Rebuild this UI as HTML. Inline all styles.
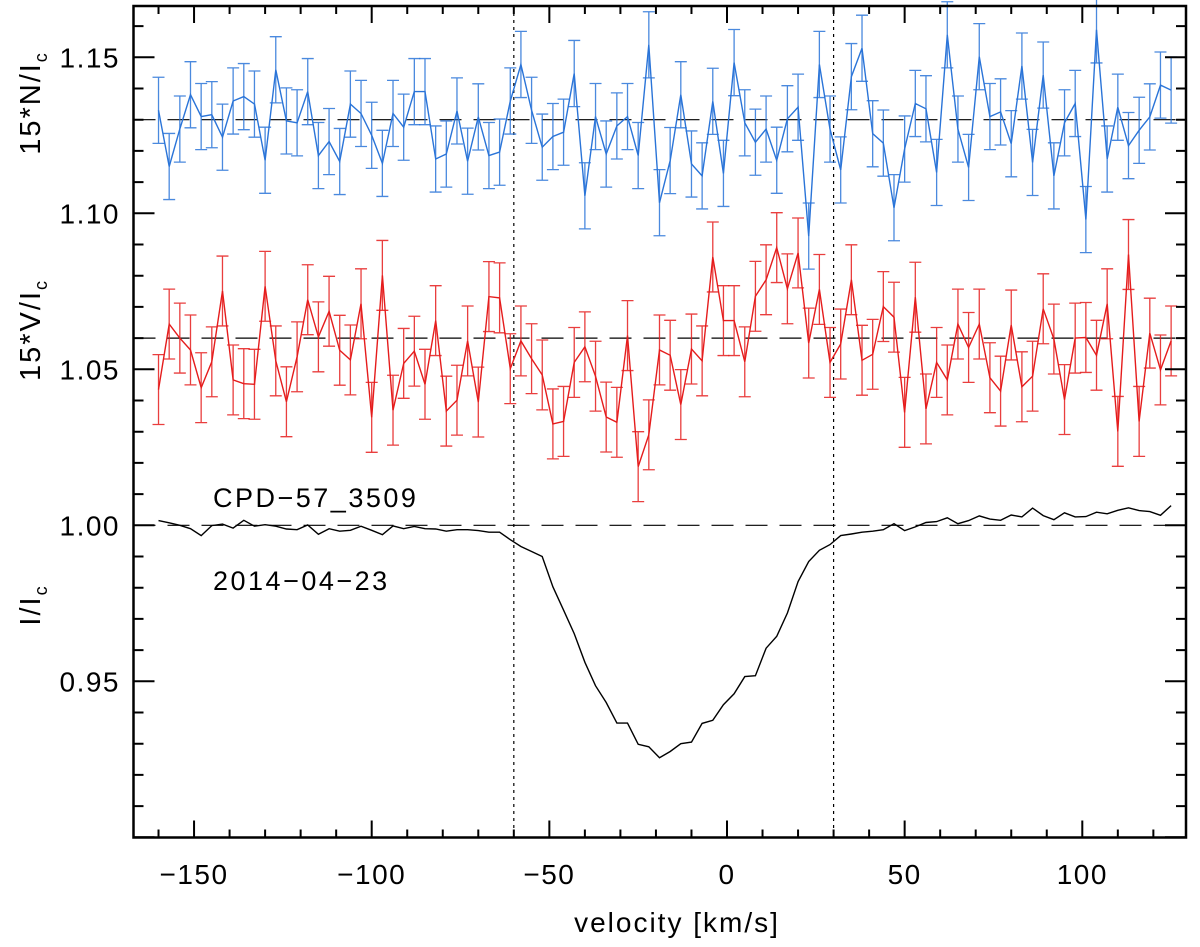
<!DOCTYPE html>
<html><head><meta charset="utf-8"><style>
html,body{margin:0;padding:0;background:#fff;}
svg{display:block;font-family:"Liberation Sans",sans-serif;}
</style></head><body>
<svg id="chart" width="1200" height="947" viewBox="0 0 1200 947" xmlns="http://www.w3.org/2000/svg">
<g id="marks"></g>
<rect x="133.5" y="6" width="1052.5" height="831.5" fill="none" stroke="#000" stroke-width="2.5"/>
<g id="axes"></g>
<text x="677" y="932" font-size="28" letter-spacing="2" text-anchor="middle" fill="#000">velocity [km/s]</text>
<text transform="translate(40,103) rotate(-90)" font-size="29" letter-spacing="2" text-anchor="middle" fill="#000">15*N/I<tspan font-size="18" dy="7">c</tspan></text>
<text transform="translate(40,330) rotate(-90)" font-size="29" letter-spacing="2" text-anchor="middle" fill="#000">15*V/I<tspan font-size="18" dy="7">c</tspan></text>
<text transform="translate(40,605) rotate(-90)" font-size="29" letter-spacing="2" text-anchor="middle" fill="#000">I/I<tspan font-size="18" dy="7">c</tspan></text>
<text x="213" y="507" font-size="27" letter-spacing="2.5" fill="#000">CPD−57_3509</text>
<text x="213" y="590" font-size="27" letter-spacing="2.5" fill="#000">2014−04−23</text>
</svg>
<script>
const vStart = -160, vStep = 3;
const nullN = [1.133,1.115,1.127,1.138,1.131,1.1316,1.1244,1.136,1.1374,1.135,1.117,1.146,1.1296,1.129,1.139,1.1185,1.123,1.1166,1.135,1.132,1.125,1.116,1.132,1.1276,1.139,1.139,1.1174,1.119,1.1328,1.1167,1.1309,1.1185,1.1196,1.136,1.1477,1.133,1.1212,1.1246,1.126,1.1448,1.1056,1.131,1.119,1.128,1.131,1.1185,1.154,1.1034,
1.1169,1.138,1.1158,1.112,1.1359,1.1128,1.1483,1.129,1.1228,1.127,1.117,1.1303,1.134,1.0927,1.1477,1.127,1.1139,1.1438,1.1529,1.1255,1.1225,1.1018,1.1206,1.1352,1.1335,1.1131,1.1572,1.127,1.1147,1.1502,1.131,1.1325,1.1223,1.1472,1.1163,1.1443,1.112,1.129,1.1352,1.098,1.1588,1.1174,1.134,1.1217,1.1266,1.1309,1.1411,1.1395];
const stokesV = [1.0435,1.0645,1.06,1.0562,1.0441,1.0524,1.0751,1.0466,1.0454,1.0452,1.0766,1.0527,1.0396,1.054,1.0723,1.0604,1.0686,1.0561,1.053,1.071,1.0346,1.0801,1.0369,1.0519,1.0558,1.0452,1.0656,1.0366,1.0401,1.0591,1.0395,1.0733,1.0729,1.0502,1.0591,1.0534,1.0482,1.0325,1.0333,1.0522,1.0572,1.0478,1.0347,1.033,1.0608,1.0188,1.029,1.0562,
1.0545,1.0387,1.0565,1.0527,1.086,1.0656,1.0656,1.0524,1.0734,1.0787,1.089,1.0758,1.0873,1.0584,1.0756,1.0522,1.0581,1.0787,1.0529,1.0548,1.0701,1.0667,1.0362,1.0731,1.0373,1.0522,1.0466,1.0645,1.057,1.0645,1.0473,1.043,1.0642,1.0444,1.0478,1.0694,1.0597,1.0403,1.06,1.0602,1.0545,1.071,1.0301,1.0868,1.0333,1.0616,1.0498,1.0591];
const intensity = [1.0015,1.0008,1.0,0.9989,0.9967,0.9999,1.0004,0.9991,1.0016,0.9997,1.0002,0.9997,0.9988,0.9986,1.0001,0.9971,0.9989,0.9981,0.9984,0.9997,0.9984,0.997,0.9998,0.9989,0.9996,0.9989,0.9988,0.9981,0.9986,0.9986,0.9983,0.9978,0.9978,0.9954,0.9932,0.9916,0.99,0.9803,0.9728,0.9653,0.9561,0.9486,0.9432,0.9366,0.9366,0.9298,0.929,0.9255,
0.9275,0.930,0.9305,0.9365,0.9375,0.9425,0.946,0.9515,0.9518,0.9606,0.9644,0.9719,0.982,0.9884,0.992,0.9938,0.9967,0.9972,0.9978,0.9981,0.9986,1.0005,0.9983,0.9995,1.0009,1.0012,1.0024,1.0005,1.0015,1.003,1.002,1.0016,1.0033,1.0027,1.0055,1.0031,1.0018,1.004,1.0027,1.0028,1.0042,1.0037,1.0048,1.0056,1.0047,1.0044,1.0032,1.0063];
const errN = 0.0106, errV = 0.0112;
const refLevels = [1.13, 1.06, 1.00];
const windowEdges = [-60, 30];
const xTicks = [-150,-100,-50,0,50,100];
const xTickLabels = ["\u2212150","\u2212100","\u221250","0","50","100"];
const yTicks = [0.95,1.00,1.05,1.10,1.15];
const yTickLabels = ["0.95","1.00","1.05","1.10","1.15"];

const X = v => 727 + (v) * 3.553;
const Y = f => 525.3 - (f - 1.0) * 3120;
const NS = "http://www.w3.org/2000/svg";
const marks = document.getElementById('marks');
const axes = document.getElementById('axes');
function mk(tag, attrs, parent){
  const e = document.createElementNS(NS, tag);
  for (const k in attrs) e.setAttribute(k, attrs[k]);
  parent.appendChild(e);
  return e;
}
refLevels.forEach((r) => {
  const l = mk('line', {x1:133.5, x2:1186, y1:Y(r), y2:Y(r), stroke:'#000', 'stroke-width':1.2, 'stroke-dasharray':'22,12'}, marks);
  
  
});
windowEdges.forEach((w) => {
  const l = mk('line', {x1:X(w), x2:X(w), y1:6, y2:837, stroke:'#000', 'stroke-width':1.2, 'stroke-dasharray':'3,4'}, marks);
  
  
});
function series(vals, err, color, name){
  const g = mk('g', {}, marks);
  
  
  if (err) {
    vals.forEach((f, i) => {
      const x = X(vStart + i*vStep);
      const e = mk('path', {d:`M${x},${Y(f-err)}V${Y(f+err)}M${x-6},${Y(f-err)}h12M${x-6},${Y(f+err)}h12`, stroke:color, 'stroke-width':1.3, fill:'none', opacity:0.85}, g);
      
      
    });
  }
  const pts = vals.map((f, i) => X(vStart + i*vStep).toFixed(1) + ',' + Y(f).toFixed(1)).join(' ');
  const p = mk('polyline', {points:pts, fill:'none', stroke:color, 'stroke-width':1.4}, g);
  
  
}
series(nullN, errN, '#2a74d8', 'null-profile');
series(stokesV, errV, '#e51c1c', 'stokes-v-profile');
series(intensity, 0, '#000', 'intensity-profile');

for (let v = -160; v <= 125; v += 10) {
  const major = v % 50 === 0;
  const len = major ? 17 : 8;
  const t = mk('path', {d:`M${X(v)},837.5v${-len}M${X(v)},6v${len}`, stroke:'#000', 'stroke-width':2}, axes);
  
  
}
xTicks.forEach((v, i) => {
  const t = mk('text', {x:X(v), y:884, 'font-size':28, 'letter-spacing':1.5, 'text-anchor':'middle', fill:'#000'}, axes);
  t.textContent = xTickLabels[i];
  
  
});
for (let k = 90; k <= 116; k++) {
  const f = k / 100;
  const major = k % 5 === 0;
  const len = major ? 21 : 10;
  const t = mk('path', {d:`M133.5,${Y(f)}h${len}M1186,${Y(f)}h${-len}`, stroke:'#000', 'stroke-width':2}, axes);
  
  
}
yTicks.forEach((f, i) => {
  const t = mk('text', {x:120, y:Y(f)+10, 'font-size':28, 'letter-spacing':1.5, 'text-anchor':'end', fill:'#000'}, axes);
  t.textContent = yTickLabels[i];
  
  
});
</script>
</body></html>
